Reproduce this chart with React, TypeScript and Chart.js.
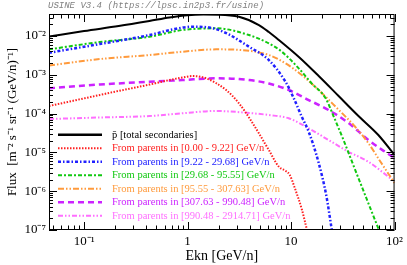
import React, { useEffect, useRef } from "react";
import { Chart, registerables } from "chart.js";

Chart.register(...registerables);

// ---- axis ranges and tick labels ----
const X_MIN = 0.0458;
const X_MAX = 100;
const Y_MIN = 1e-7;
const Y_MAX = 0.037;
const X_TICKS = [0.1, 1, 10, 100];
const X_TICK_LABELS = ["10\u207B\u00B9", "1", "10", "10\u00B2"];
const Y_TICKS = [1e-7, 1e-6, 1e-5, 1e-4, 1e-3, 1e-2];
const Y_TICK_LABELS = ["10\u207B\u2077", "10\u207B\u2076", "10\u207B\u2075", "10\u207B\u2074", "10\u207B\u00B3", "10\u207B\u00B2"];

const TITLE_TEXT = "USINE V3.4 (https://lpsc.in2p3.fr/usine)";
const X_TITLE = "Ekn [GeV/n]";
const Y_TITLE = "Flux  [m\u207B\u00B2 s\u207B\u00B9 sr\u207B\u00B9 (GeV/n)\u207B\u00B9]";

// ---- series ----
const LABELS = [
  "p\u0304 [total secondaries]",
  "From parents in [0.00 - 9.22] GeV/n",
  "From parents in [9.22 - 29.68] GeV/n",
  "From parents in [29.68 - 95.55] GeV/n",
  "From parents in [95.55 - 307.63] GeV/n",
  "From parents in [307.63 - 990.48] GeV/n",
  "From parents in [990.48 - 2914.71] GeV/n",
];

const E_TOTAL = [0.0458, 0.1, 0.216, 0.428, 0.667, 1, 1.42, 2.02, 3.14, 4.89, 6.1, 7.62, 11.9, 18.5, 28.8, 44.8, 69.7, 100];
const F_TOTAL = [0.0097, 0.0135, 0.0181, 0.0244, 0.030, 0.0345, 0.0358, 0.0356, 0.0314, 0.0192, 0.0127, 0.0079, 0.00288, 0.00093, 2.84e-4, 8.67e-5, 2.81e-5, 8.6e-6];

const E_RED = [0.0458, 0.1, 0.216, 0.428, 0.667, 0.889, 1.11, 1.51, 2.36, 3.14, 4.07, 4.89, 6.1, 7.62, 8.89, 9.72, 10.86, 12.76, 14.25, 15.5];
const F_RED = [1.57e-4, 2.47e-4, 3.85e-4, 5.6e-4, 7.34e-4, 8.5e-4, 9.3e-4, 8.13e-4, 4.06e-4, 1.84e-4, 6.84e-5, 3.1e-5, 1.15e-5, 4.28e-6, 3.32e-6, 2.62e-6, 1.21e-6, 3.27e-7, 1e-7, 4e-8];

const E_BLUE = [0.0458, 0.1416, 0.428, 0.745, 1.11, 1.617, 2.36, 3.92, 6.1, 8.83, 10.6, 12.68, 14.8, 18.5, 22.0, 24.6, 25.7];
const F_BLUE = [0.00371, 0.00622, 0.0106, 0.0151, 0.0174, 0.0166, 0.0119, 0.0053, 0.0024, 6.64e-4, 2.52e-4, 8.3e-5, 3.41e-5, 5.33e-6, 7.24e-7, 1.12e-7, 5.5e-8];

const E_GREEN = [0.0458, 0.1416, 0.428, 0.889, 1.888, 3.92, 6.1, 8.14, 11.86, 15.8, 21.6, 25.7, 32.1, 40.1, 50.0, 69.7, 77.9];
const F_GREEN = [0.00454, 0.0070, 0.0096, 0.0143, 0.0158, 0.0106, 0.00649, 0.00394, 0.00147, 6.04e-4, 2.48e-4, 8.67e-5, 2.09e-5, 4.59e-6, 1.03e-6, 1.1e-7, 5.2e-8];

const E_ORANGE = [0.0458, 0.1416, 0.428, 0.889, 1.888, 3.36, 6.1, 8.83, 12.68, 18.5, 26.9, 41.6, 55.9, 74.5, 100];
const F_ORANGE = [0.00174, 0.00255, 0.00324, 0.00394, 0.00454, 0.00435, 0.00324, 0.00198, 9.9e-4, 4.06e-4, 1.51e-4, 4.59e-5, 1.72e-5, 5.33e-6, 1.63e-6];

const E_PURPLE = [0.0458, 0.1416, 0.428, 0.889, 1.888, 3.92, 6.1, 9.5, 14.8, 23.0, 35.9, 55.9, 80.8, 100];
const F_PURPLE = [4.49e-4, 5.62e-4, 6.64e-4, 7.34e-4, 8.13e-4, 7.34e-4, 5.97e-4, 4.06e-4, 2.24e-4, 1.24e-4, 5.73e-5, 2.09e-5, 1.04e-5, 7.18e-6];

const E_PINK = [0.0458, 0.1416, 0.428, 0.889, 1.888, 3.92, 6.1, 9.5, 14.8, 23.0, 35.9, 55.9, 100];
const F_PINK = [7.26e-5, 7.94e-5, 8.67e-5, 1.02e-4, 1.17e-4, 1.04e-4, 9.2e-5, 7.57e-5, 4.18e-5, 2.09e-5, 1.04e-5, 5.75e-6, 1.76e-6];

const SERIES_E = [E_TOTAL, E_RED, E_BLUE, E_GREEN, E_ORANGE, E_PURPLE, E_PINK];
const SERIES_F = [F_TOTAL, F_RED, F_BLUE, F_GREEN, F_ORANGE, F_PURPLE, F_PINK];

// ---- styles ----
const COLORS = ["#000000", "#ff2020", "#2020ff", "#10c810", "#ff9a3c", "#cc22ff", "#ff6eff"];
const DASHES: number[][] = [[], [1.5, 1.5], [3, 2, 1.5, 2], [4, 2, 2, 2], [6, 2, 1.5, 2, 1.5, 2], [6, 4], [5, 2, 1.5, 2, 1.5, 2]];
const WIDTHS = [2, 2, 2.5, 2, 2, 2.5, 2];

const SERIF = '"Liberation Serif", "Times New Roman", serif';

const rootPlugin = {
  id: "rootFrame",
  afterDatasetsDraw(chart: any) {
    const { ctx, chartArea: a, scales } = chart;
    const xs = scales.x;
    const ys = scales.y;
    ctx.save();
    // frame
    ctx.strokeStyle = "#000";
    ctx.lineWidth = 1;
    ctx.setLineDash([]);
    ctx.strokeRect(a.left + 0.5, a.top + 0.5, a.right - a.left - 1, a.bottom - a.top - 1);
    // x ticks
    ctx.beginPath();
    for (let e = -2; e <= 2; e++) {
      for (let m = 1; m <= 9; m++) {
        const v = m * Math.pow(10, e);
        if (v < X_MIN || v > X_MAX * 1.0001) continue;
        const px = Math.round(xs.getPixelForValue(v)) + 0.5;
        const len = m === 1 ? 8 : 4.5;
        ctx.moveTo(px, a.bottom);
        ctx.lineTo(px, a.bottom - len);
        ctx.moveTo(px, a.top);
        ctx.lineTo(px, a.top + len);
      }
    }
    // y ticks
    for (let e = -8; e <= -1; e++) {
      for (let m = 1; m <= 9; m++) {
        const v = m * Math.pow(10, e);
        if (v < Y_MIN * 0.9999 || v > Y_MAX) continue;
        const py = Math.round(ys.getPixelForValue(v)) + 0.5;
        const len = m === 1 ? 8 : 4;
        ctx.moveTo(a.left, py);
        ctx.lineTo(a.left + len, py);
        ctx.moveTo(a.right, py);
        ctx.lineTo(a.right - len, py);
      }
    }
    ctx.stroke();

    // legend
    const lx0 = a.left + 9;
    const lx1 = a.left + 53;
    const tx = a.left + 63;
    const ly0 = a.top + 120.7;
    const step = 13.5;
    ctx.font = "10.5px " + SERIF;
    ctx.textBaseline = "middle";
    ctx.textAlign = "left";
    for (let i = 0; i < LABELS.length; i++) {
      const y = ly0 + i * step;
      ctx.strokeStyle = COLORS[i];
      ctx.lineWidth = i === 0 ? 2.5 : WIDTHS[i];
      ctx.setLineDash(DASHES[i]);
      ctx.beginPath();
      ctx.moveTo(lx0, y);
      ctx.lineTo(lx1, y);
      ctx.stroke();
      ctx.setLineDash([]);
      ctx.fillStyle = COLORS[i];
      ctx.fillText(LABELS[i], tx, y + 0.5);
    }

    // top banner
    ctx.font = 'italic 9px "Liberation Mono", "DejaVu Sans Mono", monospace';
    ctx.fillStyle = "#808080";
    ctx.textBaseline = "middle";
    ctx.fillText(TITLE_TEXT, a.left - 1, 6);

    // axis titles
    ctx.fillStyle = "#000";
    ctx.font = "14px " + SERIF;
    ctx.textAlign = "center";
    ctx.textBaseline = "middle";
    ctx.fillText(X_TITLE, (a.left + a.right) / 2, 256);

    ctx.save();
    ctx.translate(13, (a.top + a.bottom) / 2);
    ctx.rotate(-Math.PI / 2);
    ctx.font = "13px " + SERIF;
    ctx.fillText(Y_TITLE, 0, 0);
    ctx.restore();

    ctx.restore();
  },
};

export default function App() {
  const ref = useRef<HTMLCanvasElement | null>(null);
  useEffect(() => {
    const canvas = ref.current;
    if (!canvas) return;
    const datasets = LABELS.map((label, i) => ({
      label,
      data: SERIES_E[i].map((x, j) => ({ x, y: SERIES_F[i][j] })),
      borderColor: COLORS[i],
      backgroundColor: COLORS[i],
      borderWidth: WIDTHS[i],
      borderDash: DASHES[i],
      pointRadius: 0,
      fill: false,
      cubicInterpolationMode: "monotone" as const,
      clip: 0,
    }));
    const chart = new Chart(canvas, {
      type: "line",
      data: { datasets },
      options: {
        animation: false,
        responsive: false,
        maintainAspectRatio: false,
        layout: { padding: { top: 14, right: 10, left: 0, bottom: 0 } },
        plugins: { legend: { display: false }, tooltip: { enabled: false }, title: { display: false } },
        scales: {
          x: {
            type: "logarithmic",
            min: X_MIN,
            max: X_MAX,
            grid: { display: false, drawTicks: false },
            border: { display: false },
            ticks: {
              autoSkip: false,
              maxRotation: 0,
              padding: 4,
              color: "#000",
              font: { family: SERIF, size: 13 },
              callback: (v: any) => {
                const k = X_TICKS.findIndex((t) => Math.abs(t - Number(v)) / t < 1e-6);
                return k >= 0 ? X_TICK_LABELS[k] : "";
              },
            },
            afterBuildTicks: (s: any) => {
              s.ticks = X_TICKS.map((value) => ({ value }));
            },
            afterFit: (s: any) => {
              s.height = 35;
            },
          },
          y: {
            type: "logarithmic",
            min: Y_MIN,
            max: Y_MAX,
            grid: { display: false, drawTicks: false },
            border: { display: false },
            ticks: {
              autoSkip: false,
              padding: 3,
              color: "#000",
              font: { family: SERIF, size: 13 },
              callback: (v: any) => {
                const k = Y_TICKS.findIndex((t) => Math.abs(t - Number(v)) / t < 1e-6);
                return k >= 0 ? Y_TICK_LABELS[k] : "";
              },
            },
            afterBuildTicks: (s: any) => {
              s.ticks = Y_TICKS.map((value) => ({ value }));
            },
            afterFit: (s: any) => {
              s.width = 49;
            },
          },
        },
      },
      plugins: [rootPlugin],
    });
    return () => chart.destroy();
  }, []);
  return (
    <div style={{ position: "absolute", left: 0, top: 0, width: 407, height: 265, background: "#fff" }}>
      <canvas ref={ref} width={407} height={265} style={{ width: 407, height: 265, display: "block" }} />
    </div>
  );
}
